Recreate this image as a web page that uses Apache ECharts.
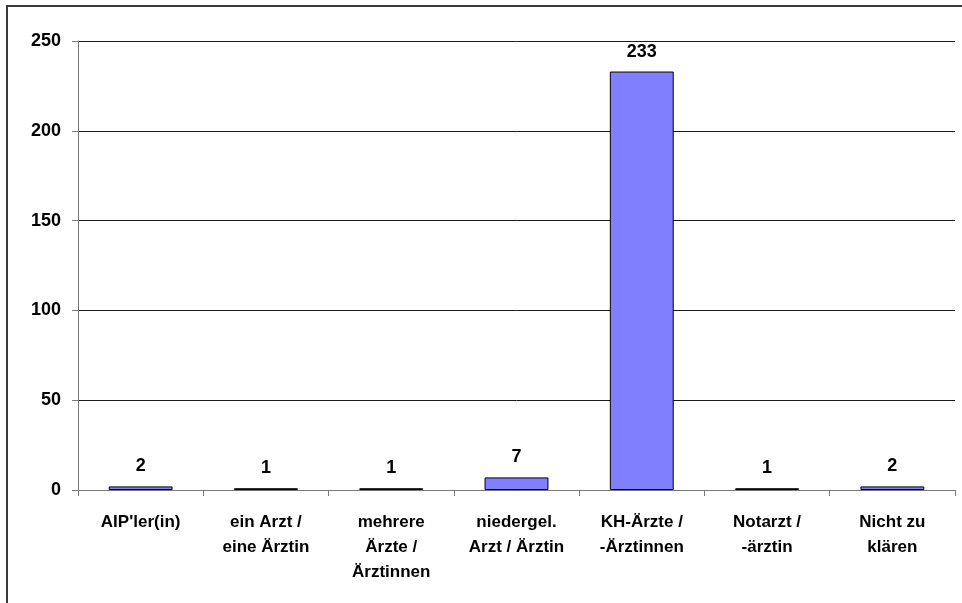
<!DOCTYPE html>
<html>
<head>
<meta charset="utf-8">
<script src="https://cdn.jsdelivr.net/npm/echarts@6/dist/echarts.min.js"></script>
<style>
  html, body { margin: 0; padding: 0; background: #ffffff; }
  #chart { width: 962px; height: 603px; }
</style>
</head>
<body>
<div id="chart"></div>
<script>
// Who was involved: counts per group
const categories = [
  "AIP'ler(in)",
  "ein Arzt /\neine Ärztin",
  "mehrere\nÄrzte /\nÄrztinnen",
  "niedergel.\nArzt / Ärztin",
  "KH-Ärzte /\n-Ärztinnen",
  "Notarzt /\n-ärztin",
  "Nicht zu\nklären"
];
const counts = [2, 1, 1, 7, 233, 1, 2];
const yTicks = [0, 50, 100, 150, 200, 250];

const FONT = "'Liberation Sans', Arial, sans-serif";

const chart = echarts.init(document.getElementById('chart'), null, { renderer: 'canvas' });

chart.setOption({
  backgroundColor: '#ffffff',
  animation: false,
  graphic: [{
    // outer frame (only left and top edges fall inside the view)
    type: 'rect',
    shape: { x: 7, y: 6, width: 1200, height: 900 },
    style: { fill: 'none', stroke: '#3a3a3a', lineWidth: 2 },
    silent: true,
    z: 100
  }],
  grid: { left: 78, top: 41, right: 7, bottom: 113, containLabel: false },
  xAxis: {
    type: 'category',
    data: categories,
    axisLine: { show: true, lineStyle: { color: '#777777', width: 1 } },
    axisTick: { show: true, length: 6, lineStyle: { color: '#777777' } },
    axisLabel: {
      color: '#000000',
      fontFamily: FONT,
      fontWeight: 'bold',
      fontSize: 17,
      lineHeight: 25,
      margin: 20,
      interval: 0
    },
    splitLine: { show: false }
  },
  yAxis: {
    type: 'value',
    min: yTicks[0],
    max: yTicks[yTicks.length - 1],
    interval: 50,
    axisLine: { show: true, lineStyle: { color: '#777777', width: 1 } },
    axisTick: { show: true, length: 6, lineStyle: { color: '#777777' } },
    axisLabel: {
      color: '#000000',
      fontFamily: FONT,
      fontWeight: 'bold',
      fontSize: 18,
      margin: 17
    },
    splitLine: { show: true, lineStyle: { color: '#1a1a1a', width: 1 } }
  },
  series: [{
    type: 'bar',
    data: counts,
    barWidth: '51%',
    itemStyle: { color: '#8080ff', borderColor: '#000000', borderWidth: 1 },
    label: {
      show: true,
      position: 'top',
      distance: 11,
      color: '#000000',
      fontFamily: FONT,
      fontWeight: 'bold',
      fontSize: 18
    }
  }]
});
</script>
</body>
</html>
